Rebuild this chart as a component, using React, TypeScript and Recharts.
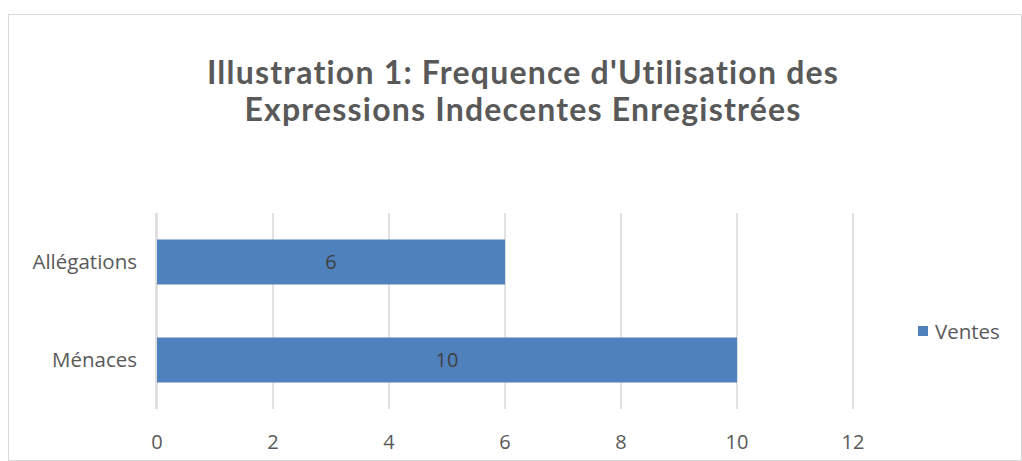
import React from 'react';
import { BarChart, Bar, XAxis, YAxis, CartesianGrid, Legend, LabelList } from 'recharts';

// --- DATA ---
const categories = ['Allégations', 'Ménaces'];
const ventes = [6, 10];
const xTicks = [0, 2, 4, 6, 8, 10, 12];
const titleLines = ["Illustration 1: Frequence d'Utilisation des", 'Expressions Indecentes Enregistrées'];
const seriesName = 'Ventes';

const chartData = categories.map((name, i) => ({ name, ventes: ventes[i] }));

// --- STYLE ---
const BAR = '#4F81BD';
const GRID = '#D9D9D9';
const TEXT = '#595959';
const TITLE_FONT = 'Lato, sans-serif';
const FONT = '"Open Sans", sans-serif';

const LegendBox = () => (
    <div style={{ display: 'flex', alignItems: 'center', fontFamily: FONT, fontSize: 20.5, color: TEXT }}>
        <span style={{ width: 10, height: 10, background: BAR, marginRight: 7, display: 'inline-block' }} />
        {seriesName}
    </div>
);

export default function App() {
    return (
        <div style={{ position: 'absolute', left: 8, top: 14, width: 1014, height: 447, border: `1px solid ${GRID}`, boxSizing: 'border-box', background: '#fff' }}>
            <div style={{ position: 'absolute', left: 0, width: 1028, top: 38, textAlign: 'center', fontFamily: TITLE_FONT, fontWeight: 'bold', fontSize: 32, lineHeight: '37px', letterSpacing: 1.2, fontVariantLigatures: 'none', color: TEXT }}>
                {titleLines.map(l => <div key={l}>{l}</div>)}
            </div>
            <BarChart
                width={1012}
                height={445}
                data={chartData}
                layout="vertical"
                margin={{ top: 198, right: 168, left: 0, bottom: 0 }}
                barCategoryGap="27%"
            >
                <CartesianGrid horizontal={false} stroke={GRID} strokeWidth={1.5} />
                <XAxis
                    type="number"
                    domain={[0, 12]}
                    ticks={xTicks}
                    axisLine={false}
                    tickLine={false}
                    tickMargin={20}
                    height={51}
                    tick={{ fontSize: 20, fill: TEXT, fontFamily: FONT }}
                />
                {/* category labels sit next to the plot; the boundary-marks axis takes the rest of the margin */}
                <YAxis
                    yAxisId="cat"
                    type="category"
                    dataKey="name"
                    width={1}
                    axisLine={false}
                    tickLine={false}
                    tickMargin={14}
                    tick={{ fontSize: 20.5, fill: TEXT, fontFamily: FONT }}
                />
                <YAxis
                    yAxisId="marks"
                    type="number"
                    domain={[0, 2]}
                    ticks={[0, 1, 2]}
                    width={147}
                    tick={false}
                    tickSize={6}
                    axisLine={{ stroke: GRID, strokeWidth: 1.5 }}
                    tickLine={{ stroke: GRID, strokeWidth: 1.5 }}
                />
                <Legend
                    layout="horizontal"
                    align="center"
                    verticalAlign="middle"
                    content={<LegendBox />}
                    wrapperStyle={{ position: 'absolute', left: 909, top: 302, width: 'auto' }}
                />
                <Bar yAxisId="cat" dataKey="ventes" name={seriesName} fill={BAR} isAnimationActive={false}>
                    <LabelList dataKey="ventes" position="center" fill="#404040" fontSize={20} fontFamily={FONT} />
                </Bar>
            </BarChart>
        </div>
    );
}
